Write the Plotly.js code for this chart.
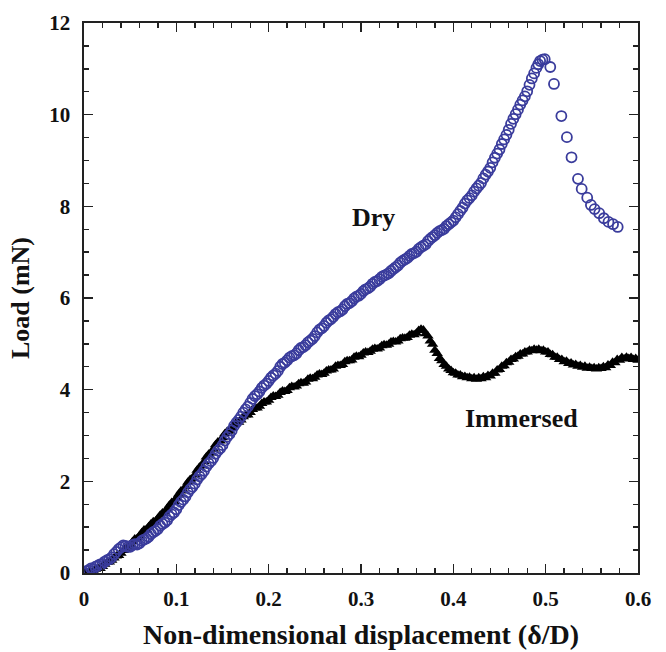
<!DOCTYPE html>
<html>
<head>
<meta charset="utf-8">
<script src="https://cdn.plot.ly/plotly-3.0.1.min.js"></script>
<style>html,body{margin:0;padding:0;background:#fff;}#chart{width:666px;height:652px;}</style>
</head>
<body>
<div id="chart"></div>
<script>
var dryX = [0.0000,0.0025,0.0050,0.0075,0.0100,0.0125,0.0150,0.0175,0.0200,0.0225,0.0250,0.0275,0.0300,0.0325,0.0350,0.0375,0.0400,0.0425,0.0450,0.0475,
0.0500,0.0525,0.0550,0.0575,0.0600,0.0625,0.0650,0.0675,0.0700,0.0725,0.0750,0.0775,0.0800,0.0825,0.0850,0.0875,0.0900,0.0925,0.0950,0.0975,
0.1000,0.1025,0.1050,0.1075,0.1100,0.1125,0.1150,0.1175,0.1200,0.1225,0.1250,0.1275,0.1300,0.1325,0.1350,0.1375,0.1400,0.1425,0.1450,0.1475,
0.1500,0.1525,0.1550,0.1575,0.1600,0.1625,0.1650,0.1675,0.1700,0.1725,0.1750,0.1775,0.1800,0.1825,0.1850,0.1875,0.1900,0.1925,0.1950,0.1975,
0.2000,0.2025,0.2050,0.2075,0.2100,0.2125,0.2150,0.2175,0.2200,0.2225,0.2250,0.2275,0.2300,0.2325,0.2350,0.2375,0.2400,0.2425,0.2450,0.2475,
0.2500,0.2525,0.2550,0.2575,0.2600,0.2625,0.2650,0.2675,0.2700,0.2725,0.2750,0.2775,0.2800,0.2825,0.2850,0.2875,0.2900,0.2925,0.2950,0.2975,
0.3000,0.3025,0.3050,0.3075,0.3100,0.3125,0.3150,0.3175,0.3200,0.3225,0.3250,0.3275,0.3300,0.3325,0.3350,0.3375,0.3400,0.3425,0.3450,0.3475,
0.3500,0.3525,0.3550,0.3575,0.3600,0.3625,0.3650,0.3675,0.3700,0.3725,0.3750,0.3775,0.3800,0.3825,0.3850,0.3875,0.3900,0.3925,0.3950,0.3975,
0.4000,0.4025,0.4050,0.4075,0.4100,0.4125,0.4150,0.4175,0.4200,0.4225,0.4250,0.4275,0.4300,0.4325,0.4350,0.4375,0.4400,0.4425,0.4450,0.4475,
0.4500,0.4525,0.4550,0.4575,0.4600,0.4625,0.4650,0.4675,0.4700,0.4725,0.4750,0.4775,0.4800,0.4825,0.4850,0.4875,0.4900,0.4920,0.4940,0.4965,
0.4990,0.5050,0.5090,0.5170,0.5230,0.5280,0.5350,0.5390,0.5450,0.5490,0.5530,0.5580,0.5630,0.5680,0.5730,0.5780];
var dryY = [0.00,0.04,0.06,0.10,0.09,0.14,0.16,0.19,0.20,0.25,0.28,0.30,0.34,0.41,0.46,0.52,0.56,0.60,0.59,0.57,
0.57,0.61,0.63,0.62,0.65,0.70,0.73,0.75,0.79,0.85,0.89,0.92,0.96,1.03,1.07,1.10,1.15,1.23,1.28,1.32,
1.39,1.48,1.55,1.60,1.67,1.76,1.83,1.88,1.95,2.04,2.11,2.16,2.23,2.32,2.39,2.44,2.51,2.60,2.67,2.72,
2.79,2.89,2.97,3.03,3.11,3.21,3.28,3.34,3.41,3.50,3.57,3.63,3.71,3.80,3.86,3.90,3.96,4.04,4.09,4.13,
4.19,4.26,4.31,4.35,4.41,4.50,4.56,4.59,4.64,4.70,4.73,4.75,4.79,4.86,4.91,4.93,4.97,5.03,5.07,5.11,
5.17,5.25,5.31,5.34,5.39,5.46,5.51,5.54,5.59,5.65,5.69,5.71,5.75,5.82,5.87,5.89,5.93,5.99,6.03,6.05,
6.09,6.15,6.19,6.21,6.25,6.31,6.35,6.37,6.41,6.46,6.49,6.51,6.54,6.59,6.63,6.67,6.71,6.77,6.81,6.84,
6.87,6.92,6.96,6.98,7.01,7.07,7.11,7.14,7.17,7.24,7.29,7.33,7.37,7.42,7.46,7.48,7.51,7.57,7.61,7.65,
7.69,7.76,7.83,7.90,7.97,8.06,8.13,8.18,8.24,8.32,8.39,8.45,8.51,8.61,8.69,8.76,8.84,8.96,9.06,9.15,
9.24,9.36,9.46,9.56,9.67,9.80,9.91,10.01,10.11,10.22,10.31,10.40,10.51,10.65,10.79,10.90,11.02,11.10,11.17,11.20,
11.21,11.04,10.67,9.97,9.51,9.07,8.60,8.38,8.19,8.03,7.94,7.85,7.74,7.66,7.61,7.55];

var immX = [0.0000,0.0025,0.0050,0.0075,0.0100,0.0125,0.0150,0.0175,0.0200,0.0225,0.0250,0.0275,0.0300,0.0325,0.0350,0.0375,0.0400,0.0425,0.0450,0.0475,
0.0500,0.0525,0.0550,0.0575,0.0600,0.0625,0.0650,0.0675,0.0700,0.0725,0.0750,0.0775,0.0800,0.0825,0.0850,0.0875,0.0900,0.0925,0.0950,0.0975,
0.1000,0.1025,0.1050,0.1075,0.1100,0.1125,0.1150,0.1175,0.1200,0.1225,0.1250,0.1275,0.1300,0.1325,0.1350,0.1375,0.1400,0.1425,0.1450,0.1475,
0.1500,0.1525,0.1550,0.1575,0.1600,0.1625,0.1650,0.1675,0.1700,0.1725,0.1750,0.1775,0.1800,0.1825,0.1850,0.1875,0.1900,0.1925,0.1950,0.1975,
0.2000,0.2025,0.2050,0.2075,0.2100,0.2125,0.2150,0.2175,0.2200,0.2225,0.2250,0.2275,0.2300,0.2325,0.2350,0.2375,0.2400,0.2425,0.2450,0.2475,
0.2500,0.2525,0.2550,0.2575,0.2600,0.2625,0.2650,0.2675,0.2700,0.2725,0.2750,0.2775,0.2800,0.2825,0.2850,0.2875,0.2900,0.2925,0.2950,0.2975,
0.3000,0.3025,0.3050,0.3075,0.3100,0.3125,0.3150,0.3175,0.3200,0.3225,0.3250,0.3275,0.3300,0.3325,0.3350,0.3375,0.3400,0.3425,0.3450,0.3475,
0.3500,0.3525,0.3550,0.3575,0.3600,0.3625,0.3650,0.3675,0.3700,0.3725,0.3750,0.3775,0.3800,0.3825,0.3850,0.3875,0.3900,0.3925,0.3950,0.3975,
0.4000,0.4025,0.4050,0.4075,0.4100,0.4125,0.4150,0.4175,0.4200,0.4225,0.4250,0.4275,0.4300,0.4325,0.4350,0.4375,0.4400,0.4425,0.4450,0.4475,
0.4500,0.4525,0.4550,0.4575,0.4600,0.4625,0.4650,0.4675,0.4700,0.4725,0.4750,0.4775,0.4800,0.4825,0.4850,0.4875,0.4900,0.4925,0.4950,0.4975,
0.5000,0.5025,0.5050,0.5075,0.5100,0.5125,0.5150,0.5175,0.5200,0.5225,0.5250,0.5275,0.5300,0.5325,0.5350,0.5375,0.5400,0.5425,0.5450,0.5475,
0.5500,0.5525,0.5550,0.5575,0.5600,0.5625,0.5650,0.5675,0.5700,0.5725,0.5750,0.5775,0.5800,0.5825,0.5850,0.5875,0.5900,0.5925,0.5950,0.5975,0.6000];
var immY = [0.00,0.01,0.03,0.02,0.05,0.08,0.11,0.10,0.14,0.19,0.23,0.24,0.28,0.33,0.37,0.38,0.43,0.49,0.54,0.55,
0.61,0.68,0.74,0.75,0.81,0.88,0.94,0.95,1.01,1.07,1.12,1.13,1.19,1.26,1.31,1.33,1.40,1.48,1.54,1.56,
1.63,1.72,1.79,1.81,1.89,1.98,2.04,2.06,2.14,2.24,2.31,2.34,2.43,2.53,2.59,2.62,2.70,2.80,2.86,2.88,
2.95,3.04,3.09,3.10,3.16,3.24,3.29,3.29,3.34,3.41,3.45,3.45,3.50,3.57,3.60,3.60,3.64,3.70,3.73,3.73,
3.77,3.83,3.86,3.85,3.88,3.94,3.97,3.96,3.98,4.04,4.07,4.06,4.08,4.13,4.15,4.14,4.17,4.23,4.25,4.24,
4.27,4.32,4.34,4.33,4.36,4.41,4.43,4.43,4.45,4.51,4.53,4.53,4.55,4.61,4.63,4.63,4.65,4.71,4.73,4.72,
4.75,4.80,4.82,4.81,4.84,4.88,4.90,4.89,4.91,4.96,4.98,4.97,4.99,5.04,5.05,5.04,5.06,5.11,5.13,5.12,
5.14,5.19,5.21,5.20,5.23,5.29,5.32,5.30,5.22,5.17,5.06,4.99,4.86,4.79,4.68,4.63,4.55,4.51,4.45,4.42,
4.37,4.36,4.32,4.32,4.28,4.29,4.26,4.27,4.24,4.26,4.23,4.26,4.24,4.28,4.26,4.31,4.30,4.36,4.36,4.43,
4.44,4.51,4.52,4.59,4.60,4.66,4.67,4.72,4.73,4.78,4.78,4.82,4.82,4.86,4.85,4.88,4.86,4.88,4.85,4.86,
4.82,4.82,4.77,4.76,4.71,4.71,4.66,4.66,4.61,4.62,4.57,4.58,4.54,4.55,4.51,4.53,4.49,4.51,4.47,4.49,
4.46,4.48,4.45,4.48,4.46,4.50,4.48,4.54,4.53,4.60,4.59,4.66,4.64,4.70,4.67,4.71,4.68,4.70,4.66,4.68,4.64];

var xTickVals = [0, 0.1, 0.2, 0.3, 0.4, 0.5, 0.6];
var xTickText = ["0", "0.1", "0.2", "0.3", "0.4", "0.5", "0.6"];
var yTickVals = [0, 2, 4, 6, 8, 10, 12];
var yTickText = ["0", "2", "4", "6", "8", "10", "12"];
var xMinorVals = [0.02,0.04,0.06,0.08,0.12,0.14,0.16,0.18,0.22,0.24,0.26,0.28,0.32,0.34,0.36,0.38,0.42,0.44,0.46,0.48,0.52,0.54,0.56,0.58];
var yMinorVals = [0.5,1,1.5,2.5,3,3.5,4.5,5,5.5,6.5,7,7.5,8.5,9,9.5,10.5,11,11.5];

var serif = "Liberation Serif, Times New Roman, serif";

var traces = [
  {
    x: immX, y: immY, type: "scatter", mode: "markers", name: "Immersed",
    marker: {symbol: "triangle-up", size: 10, color: "#000000", line: {width: 0}}
  },
  {
    x: dryX, y: dryY, type: "scatter", mode: "markers", name: "Dry",
    marker: {symbol: "circle-open", size: 10, color: "#3a3c9c", line: {width: 1.8, color: "#3a3c9c"}}
  }
];

var axisCommon = {
  showgrid: false, zeroline: false, showline: true, linecolor: "#222", linewidth: 1.6,
  mirror: "allticks", ticks: "inside", ticklen: 9, tickwidth: 1.6, tickcolor: "#222",
  tickmode: "array",
  tickfont: {family: serif, size: 21, color: "#111", weight: "bold"}
};

var layout = {
  width: 666, height: 652,
  margin: {l: 84, r: 28, t: 23, b: 79},
  paper_bgcolor: "#fff", plot_bgcolor: "#fff",
  showlegend: false,
  xaxis: Object.assign({}, axisCommon, {
    range: [0, 0.6], tickvals: xTickVals, ticktext: xTickText,
    minor: {tickvals: xMinorVals, ticks: "inside", ticklen: 5, tickwidth: 1.4, tickcolor: "#222"},
    ticklabelstandoff: 6,
    title: {text: "Non-dimensional displacement (δ/D)", font: {family: serif, size: 28, color: "#111", weight: "bold"}, standoff: 14}
  }),
  yaxis: Object.assign({}, axisCommon, {
    range: [0, 12], tickvals: yTickVals, ticktext: yTickText,
    minor: {tickvals: yMinorVals, ticks: "inside", ticklen: 5, tickwidth: 1.4, tickcolor: "#222"},
    ticklabelstandoff: 8,
    title: {text: "Load (mN)", font: {family: serif, size: 26, color: "#111", weight: "bold"}, standoff: 12}
  }),
  annotations: [
    {x: 0.314, y: 7.75, xref: "x", yref: "y", text: "Dry", showarrow: false,
     font: {family: serif, size: 26, color: "#111", weight: "bold"}},
    {x: 0.474, y: 3.38, xref: "x", yref: "y", text: "Immersed", showarrow: false,
     font: {family: serif, size: 26, color: "#111", weight: "bold"}}
  ]
};

Plotly.newPlot("chart", traces, layout, {staticPlot: true, displayModeBar: false});
</script>
</body>
</html>
